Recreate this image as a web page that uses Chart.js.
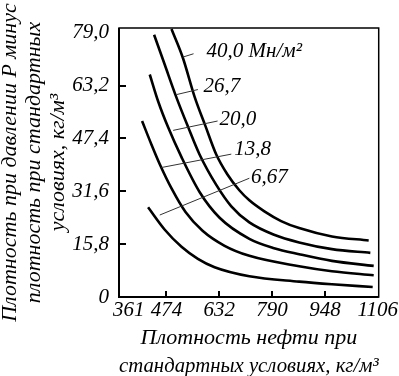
<!DOCTYPE html>
<html>
<head>
<meta charset="utf-8">
<script src="https://cdn.jsdelivr.net/npm/chart.js@4"></script>
<style>
  html, body { margin: 0; padding: 0; background: #fff; }
  canvas { display: block; }
</style>
</head>
<body>
<canvas id="chart-1" width="399" height="376"></canvas>
<script>
// Tick values and labels
const xTicks = [361, 474, 632, 790, 948, 1106];
const yTicks = [0, 15.8, 31.6, 47.4, 63.2, 79.0];
const yTickLabels = ['0', '15,8', '31,6', '47,4', '63,2', '79,0'];

// Curves, one per pressure
const pressureLabels = ['40,0 Мн/м²', '26,7', '20,0', '13,8', '6,67'];

const x40 = [489, 523, 558, 591, 623, 656, 692, 722, 767, 817, 871, 969, 1079];
const y40 = [80.1, 71.5, 59.9, 51.0, 42.6, 36.7, 31.9, 28.9, 25.6, 22.7, 20.6, 18.1, 16.9];

const x267 = [437, 469, 504, 538, 573, 623, 668, 722, 796, 871, 969, 1084];
const y267 = [78.4, 69.4, 59.6, 51.0, 42.6, 33.5, 27.1, 22.3, 18.6, 16.3, 14.3, 13.2];

const x200 = [424, 449, 479, 519, 573, 633, 722, 796, 871, 969, 1094];
const y200 = [66.5, 58.5, 50.7, 41.8, 31.4, 23.7, 17.4, 14.6, 12.8, 10.8, 9.3];

const x138 = [401, 429, 454, 490, 531, 582, 648, 722, 871, 969, 1094];
const y138 = [52.6, 45.6, 39.7, 32.3, 25.4, 19.8, 15.3, 12.3, 9.2, 7.7, 6.5];

const x667 = [419, 469, 519, 568, 618, 722, 871, 969, 1091];
const y667 = [26.8, 20.1, 15.0, 11.4, 8.9, 6.2, 4.6, 3.8, 3.0];

// Leader lines: start on curve, end near label (data coords)
const leaderX0 = [523, 504, 494, 459, 454];
const leaderY0 = [71.7, 60.5, 49.8, 38.7, 24.5];
const leaderX1 = [555, 568, 627, 668, 722];
const leaderY1 = [72.7, 62.0, 52.6, 42.7, 35.5];
const labelX = [594, 585, 633, 677, 727];
const labelY = [73.3, 62.9, 53.1, 44.2, 35.8];

const serif = "'Liberation Serif', 'Times New Roman', serif";

const toPoints = (xs, ys) => xs.map((x, i) => ({ x: x, y: ys[i] }));
const curves = [[x40, y40], [x267, y267], [x200, y200], [x138, y138], [x667, y667]];

const frame = {
    id: 'frame',
    afterDatasetsDraw(chart) {
        const { ctx, chartArea: a, scales } = chart;
        ctx.save();
        ctx.strokeStyle = '#000';
        ctx.lineWidth = 1.5;
        ctx.strokeRect(a.left, a.top, a.right - a.left, a.bottom - a.top);
        ctx.lineWidth = 2;
        ctx.beginPath();
        ctx.moveTo(a.left, a.top);
        ctx.lineTo(a.left, a.bottom);
        ctx.lineTo(a.right, a.bottom);
        ctx.stroke();
        // inward tick marks
        xTicks.slice(1, -1).forEach(v => {
            const px = Math.round(scales.x.getPixelForValue(v));
            ctx.beginPath();
            ctx.moveTo(px, a.bottom);
            ctx.lineTo(px, a.bottom - 6);
            ctx.stroke();
        });
        yTicks.slice(1, -1).forEach(v => {
            const py = Math.round(scales.y.getPixelForValue(v));
            ctx.beginPath();
            ctx.moveTo(a.left, py);
            ctx.lineTo(a.left + 7, py);
            ctx.stroke();
        });
        // leader lines and pressure labels
        ctx.lineWidth = 1;
        ctx.strokeStyle = '#333';
        ctx.fillStyle = '#000';
        ctx.font = 'italic 21px ' + serif;
        ctx.textAlign = 'left';
        ctx.textBaseline = 'middle';
        pressureLabels.forEach((t, i) => {
            ctx.beginPath();
            ctx.moveTo(scales.x.getPixelForValue(leaderX0[i]), scales.y.getPixelForValue(leaderY0[i]));
            ctx.lineTo(scales.x.getPixelForValue(leaderX1[i]), scales.y.getPixelForValue(leaderY1[i]));
            ctx.stroke();
            ctx.fillText(t, scales.x.getPixelForValue(labelX[i]), scales.y.getPixelForValue(labelY[i]));
        });
        ctx.restore();
    }
};

const ctx1 = document.getElementById('chart-1');
const chart1 = new Chart(ctx1, {
    type: 'line',
    data: {
        datasets: curves.map((c, i) => ({
            label: pressureLabels[i],
            data: toPoints(c[0], c[1]),
            borderColor: '#000',
            borderWidth: 2.6,
            pointRadius: 0,
            fill: false,
            cubicInterpolationMode: 'monotone'
        }))
    },
    options: {
        responsive: false,
        animation: false,
        layout: { padding: { top: 28, right: 19, left: 0, bottom: 0 } },
        plugins: {
            legend: { display: false },
            tooltip: { enabled: false }
        },
        scales: {
            x: {
                type: 'linear',
                min: 332,
                max: 1109,
                afterBuildTicks: s => { s.ticks = xTicks.map(v => ({ value: v })); },
                afterFit: s => { s.height = 79; },
                grid: { display: false, drawTicks: false },
                border: { display: false },
                ticks: {
                    color: '#000',
                    padding: 1,
                    maxRotation: 0,
                    autoSkip: false,
                    font: { family: serif, size: 21, style: 'italic' },
                    callback: v => String(v)
                },
                title: {
                    display: true,
                    text: ['Плотность нефти при', 'стандартных условиях, кг/м³'],
                    color: '#000',
                    padding: { top: 0, bottom: -5 },
                    font: { family: serif, size: 22, style: 'italic', lineHeight: 1.3 }
                }
            },
            y: {
                min: 0,
                max: 80.4,
                afterBuildTicks: s => { s.ticks = yTicks.map(v => ({ value: v })); },
                afterFit: s => { s.width = 119; },
                grid: { display: false, drawTicks: false },
                border: { display: false },
                ticks: {
                    color: '#000',
                    padding: 10,
                    font: { family: serif, size: 21, style: 'italic' },
                    callback: (v, i) => yTickLabels[i]
                },
                title: {
                    display: true,
                    text: ['Плотность при давлении Р минус', 'плотность при стандартных', 'условиях, кг/м³'],
                    color: '#000',
                    padding: { top: -2, bottom: 0 },
                    font: { family: serif, size: 22, style: 'italic', lineHeight: 1.1 }
                }
            }
        }
    },
    plugins: [frame]
});
</script>
</body>
</html>
